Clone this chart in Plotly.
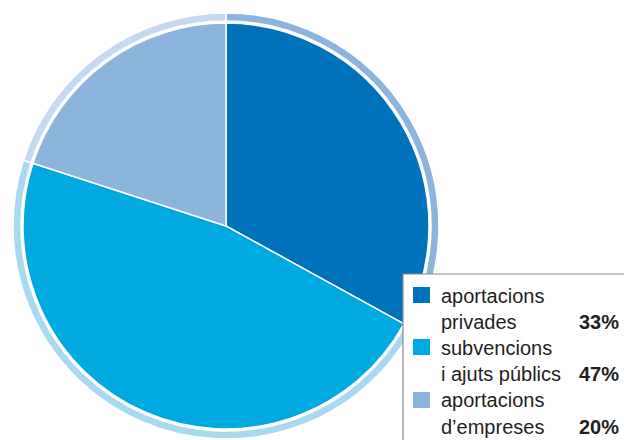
import plotly.graph_objects as go

labels_line1 = ["aportacions", "subvencions", "aportacions"]
labels_line2 = ["privades", "i ajuts públics", "d\u2019empreses"]
values = [33, 47, 20]
slice_colors = ["#0072BB", "#00A9E0", "#8CB4DC"]
ring_colors = ["#8CB4DC", "#A8D9F1", "#C6D9EE"]

W, H = 624, 440
cx, cy = 226, 226
r_out, r_in = 213, 203

def dom(r):
    return dict(x=[(cx - r) / W, (cx + r) / W], y=[1 - (cy + r) / H, 1 - (cy - r) / H])

fig = go.Figure()
fig.add_trace(go.Pie(
    values=values, labels=[a + " " + b for a, b in zip(labels_line1, labels_line2)],
    sort=False, direction="clockwise", rotation=0, hole=205 / 213,
    marker=dict(colors=ring_colors, line=dict(color="white", width=1.5)),
    textinfo="none", hoverinfo="skip", showlegend=False, domain=dom(r_out)))
fig.add_trace(go.Pie(
    values=values, labels=[a + " " + b for a, b in zip(labels_line1, labels_line2)],
    sort=False, direction="clockwise", rotation=0,
    marker=dict(colors=slice_colors, line=dict(color="white", width=1.5)),
    textinfo="none", showlegend=False, domain=dom(r_in)))

def px(x):
    return x / W

def py(y):
    return 1 - y / H

shapes = [dict(type="rect", xref="paper", yref="paper", x0=px(403), x1=px(630), y0=py(450), y1=py(274),
               fillcolor="white", line=dict(color="#8A8A8A", width=1.2), layer="above")]
annotations = []
font = dict(family="Liberation Sans, Arial, sans-serif", size=20, color="#231F20")
sq_tops = [287, 339, 392]
line1_y = [296, 348, 400]
line2_y = [322, 374, 427]
total = sum(values)
for i in range(3):
    shapes.append(dict(type="rect", xref="paper", yref="paper", x0=px(413), x1=px(430),
                       y0=py(sq_tops[i] + 16), y1=py(sq_tops[i]), fillcolor=slice_colors[i],
                       line=dict(width=0), layer="above"))
    annotations.append(dict(xref="paper", yref="paper", x=px(439), y=py(line1_y[i]), text=labels_line1[i],
                            showarrow=False, xanchor="left", yanchor="middle", font=font))
    annotations.append(dict(xref="paper", yref="paper", x=px(439), y=py(line2_y[i]), text=labels_line2[i],
                            showarrow=False, xanchor="left", yanchor="middle", font=font))
    annotations.append(dict(xref="paper", yref="paper", x=px(621), y=py(line2_y[i]),
                            text="<b>%d%%</b>" % round(values[i] * 100 / total),
                            showarrow=False, xanchor="right", yanchor="middle", font=font))

fig.update_layout(width=W, height=H, margin=dict(l=0, r=0, t=0, b=0),
                  paper_bgcolor="white", plot_bgcolor="white",
                  shapes=shapes, annotations=annotations)
fig.write_html("out.html", config={"displayModeBar": False},
               post_script="document.body.style.margin='0';document.body.style.overflow='hidden';")
